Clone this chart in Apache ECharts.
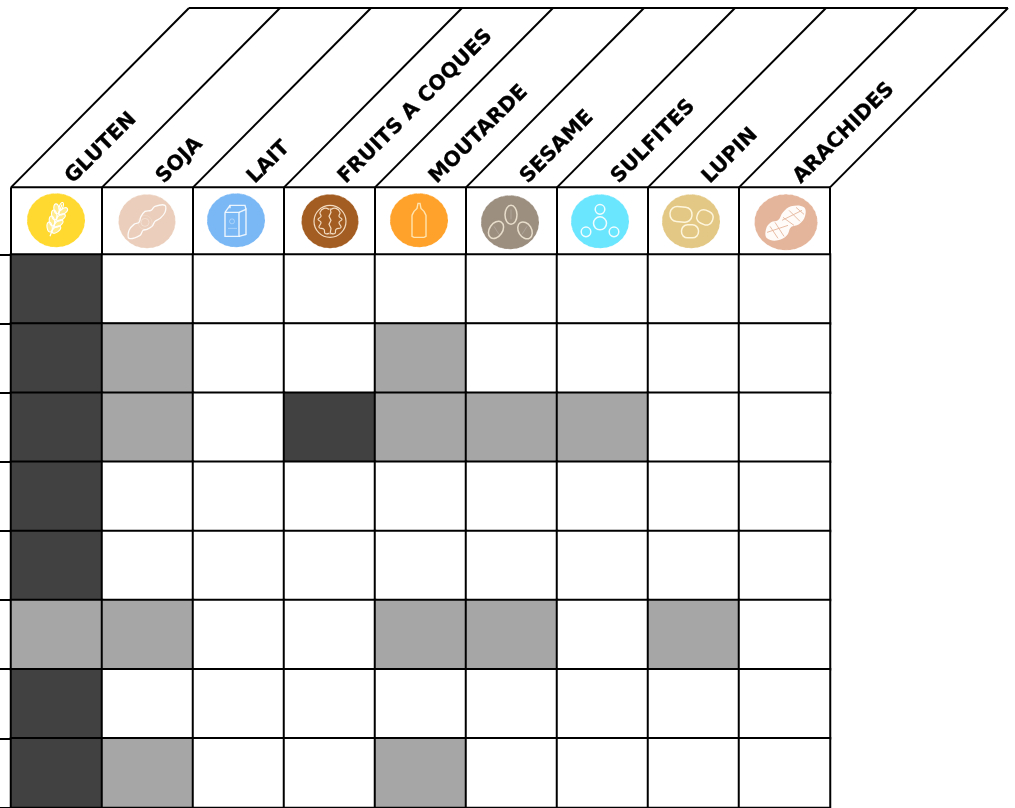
<!DOCTYPE html>
<html><head><meta charset="utf-8">
<style>html,body{margin:0;padding:0;background:#fff}#c{width:1015px;height:808px}</style>
<script src="https://cdn.jsdelivr.net/npm/echarts@6/dist/echarts.min.js"></script>
</head><body><div id="c"></div>
<script>
const allergens = ['GLUTEN','SOJA','LAIT','FRUITS A COQUES','MOUTARDE','SESAME','SULFITES','LUPIN','ARACHIDES'];
const rowNames = ['1','2','3','4','5','6','7','8'];
// 0 = absent, 1 = traces (grey), 2 = present (dark)
const row1 = [2,0,0,0,0,0,0,0,0];
const row2 = [2,1,0,0,1,0,0,0,0];
const row3 = [2,1,0,2,1,1,1,0,0];
const row4 = [2,0,0,0,0,0,0,0,0];
const row5 = [2,0,0,0,0,0,0,0,0];
const row6 = [1,1,0,0,1,1,0,1,0];
const row7 = [2,0,0,0,0,0,0,0,0];
const row8 = [2,1,0,0,1,0,0,0,0];
const matrix = [row1,row2,row3,row4,row5,row6,row7,row8];

const cells = [];
matrix.forEach((r,y)=>r.forEach((v,x)=>cells.push([x,y,v])));

const badgeColors = ['#FFD92F','#EBCFBC','#7AB8F5','#A35D22','#FFA22B','#9C8F80','#6AE6FF','#E3C885','#E5B59B'];
const badgeOffset = [[-0.5,-1],[-0.5,0],[-2.5,-1],[0.5,0],[-1.5,-1],[-1.5,1],[-2.5,0],[-2.5,0],[1.5,1]];
const badgeRadius = [[29,27],[28.5,27],[29,27],[28.5,27],[29,27],[29,27],[29,27],[29,27],[31.5,28]];

const W = '#ffffff';
const st = (c,lw)=>({fill:'none',stroke:c||'rgba(255,255,255,0.85)',lineWidth:lw||1.4});
const ell=(x,y,a,b,rot,s)=>({type:'ellipse',x:x,y:y,rotation:rot||0,shape:{cx:0,cy:0,rx:a,ry:b},style:s||st()});
const cir=(x,y,r,s)=>({type:'circle',shape:{cx:x,cy:y,r:r},style:s||st()});
const pl=(pts,smooth,s)=>({type:'polyline',shape:{points:pts,smooth:smooth||0},style:s||st()});

function wheat(){
  const kids=[pl([[0,17],[0,-17]],0,st(W,1.2))];
  [-11,-4.5,2,8.5].forEach(y=>{
    kids.push(ell(-3.6,y,2.6,5,0.55,{fill:'rgba(255,255,255,0.45)',stroke:W,lineWidth:1.1}));
    kids.push(ell(3.6,y,2.6,5,-0.55,{fill:'rgba(255,255,255,0.45)',stroke:W,lineWidth:1.1}));
  });
  kids.push(ell(0,-15,1.8,4,0,st(W,1.1)));
  return [{type:'group',rotation:-0.36,children:kids}];
}
function soy(){
  return [{type:'polygon',shape:{smooth:0.35,points:[[-18,17],[-18,9],[-13,3],[-8,1],[-6,-5],[-2,-10],[4,-11],[8,-15],[18,-16],[18,-9],[13,-3],[8,0],[5,5],[0,8],[-4,9],[-7,14]]},style:{fill:'none',stroke:'rgba(255,255,255,0.9)',lineWidth:1.3}},
          cir(-2,1,4,st('rgba(255,255,255,0.3)',1)),cir(-2,1,7,st('rgba(255,255,255,0.15)',1))];
}
function milk(){
  return [pl([[-11,-8],[3,-8],[3,16],[-11,16],[-11,-8]]),
          pl([[3,-8],[10,-11],[10,14],[3,16]]),
          pl([[-11,-8],[-6,-15],[9,-15],[10,-11]]),
          pl([[-6,-15],[-6,-12]]),
          pl([[-8,8],[1,8]],0,st('rgba(255,255,255,0.35)',1)),
          cir(-4,1,2.5,st('rgba(255,255,255,0.35)',1))];
}
function walnut(){
  const s=st('rgba(255,240,220,0.85)',1.2);
  return [cir(0,0,16,s),
    pl([[-1,-12],[-6,-13],[-10,-9],[-9,-5],[-12,-2],[-9,1],[-11,6],[-6,8],[-5,12],[-1,12]],0.5,s),
    pl([[1,-12],[6,-13],[10,-9],[9,-5],[12,-2],[9,1],[11,6],[6,8],[5,12],[1,12]],0.5,s),
    pl([[0,-13],[1,-9],[-1,-5],[1,-1],[-1,3],[1,7],[0,13]],0,s)];
}
function mustard(){
  return [pl([[-7,-5],[-7,16],[-5,17],[5,17],[7,16],[7,-5],[5,-9],[2,-12],[1,-17],[-1,-17],[-2,-12],[-5,-9],[-7,-5]],0,st('rgba(255,235,190,0.9)',1.4))];
}
function sesame(){
  const s=st('rgba(240,230,210,0.9)',1.5);
  return [ell(1,-7.5,6,9.5,0,s),ell(-14,7.5,6.5,9.5,-0.6,s),ell(15,8,6.5,9,0.55,s),
    pl([[1,-13],[1,-3]],0,st('rgba(255,255,255,0.18)',1)),pl([[-16,4],[-11,12]],0,st('rgba(255,255,255,0.18)',1)),pl([[17,4],[12,12]],0,st('rgba(255,255,255,0.18)',1))];
}
function sulfite(){
  const s=st('rgba(255,255,255,0.9)',1.5);
  return [cir(0,2,6.5,s),cir(0,-12,4.8,s),cir(-14,10.5,4.8,s),cir(14,10.5,4.8,s)];
}
function lupin(){
  const s=st('rgba(255,248,225,0.95)',1.5);
  const rr=(x,y,w,h,r,rot)=>({type:'rect',x:x,y:y,rotation:rot||0,shape:{x:-w/2,y:-h/2,width:w,height:h,r:r},style:s});
  return [rr(-10,-7,22,15,7,-0.1),rr(14,-4,16,14,6,-0.4),rr(-1,10,17,13,6,0)];
}
function peanut(base){
  const f={fill:'rgba(255,255,255,0.94)',stroke:'none'};
  return [{type:'polygon',shape:{smooth:0.4,points:[[-19,16],[-20,7],[-15,0],[-8,-2],[-3,-10],[5,-16],[18,-15],[19,-6],[13,2],[5,5],[1,13],[-8,18]]},style:f},
    pl([[-16,4],[-8,16]],0,st(base,0.9)),pl([[-11,0],[-2,14]],0,st(base,0.9)),pl([[-19,10],[2,3]],0,st(base,0.9)),
    pl([[-3,-5],[8,3]],0,st(base,0.9)),pl([[3,-12],[14,-1]],0,st(base,0.9)),pl([[10,-15],[18,-8]],0,st(base,0.9)),pl([[-4,-2],[16,-12]],0,st(base,0.9))];
}
const glyphs=[wheat,soy,milk,walnut,mustard,sesame,sulfite,lupin,peanut];

const HEADER_RATIO = 0.97, RISE_X = 178, RISE_Y = 179.4, LW = 2;
const black = {stroke:'#000',lineWidth:LW,fill:'none'};

function renderHeader(params, api){
  const col = api.value(0);
  const c = api.coord([col,0]);
  const sz = api.size([1,1]);
  const left = c[0]-sz[0]/2, right = c[0]+sz[0]/2;
  const bottom = c[1]-sz[1]/2, top = bottom - sz[1]*HEADER_RATIO;
  const kids = [
    {type:'line',shape:{x1:left,y1:top,x2:right,y2:top},style:black},
    {type:'line',shape:{x1:left,y1:top,x2:left+RISE_X,y2:top-RISE_Y},style:black},
    {type:'line',shape:{x1:left,y1:top,x2:left,y2:bottom},style:black},
    {type:'line',shape:{x1:left+RISE_X,y1:top-RISE_Y,x2:right+RISE_X,y2:top-RISE_Y},style:black},
    {type:'text',x:left+58,y:top-7,rotation:Math.PI/4,
      style:{text:allergens[col],fontFamily:'"DejaVu Sans"',fontWeight:'bold',fontSize:20.5,fill:'#000',stroke:'#000',lineWidth:0.3,align:'left',verticalAlign:'middle'}},
    {type:'group',x:c[0]+badgeOffset[col][0],y:(top+bottom)/2+badgeOffset[col][1]+0.5,children:[
      {type:'ellipse',shape:{cx:0,cy:0,rx:badgeRadius[col][0],ry:badgeRadius[col][1]},style:{fill:badgeColors[col],stroke:'rgba(255,255,255,0.55)',lineWidth:0.8,lineDash:[3,3]}},
      ...glyphs[col](badgeColors[col])
    ]}
  ];
  if(col===allergens.length-1){
    kids.push({type:'line',shape:{x1:right,y1:top,x2:right,y2:bottom},style:black});
    kids.push({type:'line',shape:{x1:right,y1:top,x2:right+RISE_X,y2:top-RISE_Y},style:black});
  }
  return {type:'group',children:kids};
}

const chart = echarts.init(document.getElementById('c'));
chart.setOption({
  animation:false,
  backgroundColor:'#fff',
  grid:{left:11,top:254.4,width:819,height:553},
  xAxis:{type:'category',data:allergens,position:'bottom',axisLine:{show:false},axisTick:{show:false},axisLabel:{show:false},splitLine:{show:false}},
  yAxis:{type:'category',data:rowNames,inverse:true,axisLine:{show:false},
    axisTick:{show:true,length:11,lineStyle:{color:'#000',width:LW}},axisLabel:{show:false},splitLine:{show:false}},
  visualMap:{show:false,type:'piecewise',seriesIndex:0,dimension:2,
    pieces:[{value:0,color:'#ffffff'},{value:1,color:'#A6A6A6'},{value:2,color:'#414141'}]},
  series:[
    {type:'heatmap',data:cells,itemStyle:{borderColor:'#000',borderWidth:LW},emphasis:{disabled:true},silent:true},
    {type:'custom',data:allergens.map((_,i)=>[i,0]),renderItem:renderHeader,clip:false,silent:true,z:5,encode:{x:0,y:1}}
  ]
});
</script></body></html>
